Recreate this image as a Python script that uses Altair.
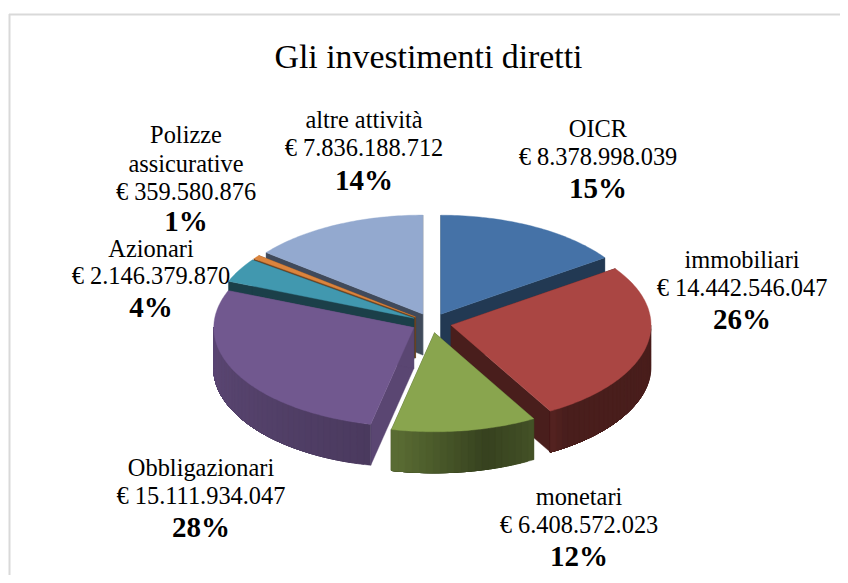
import math
import numpy as np
import pandas as pd
import altair as alt

# ---- data ----
categories = ["OICR", "immobiliari", "monetari", "Obbligazionari", "Azionari", "Polizze assicurative", "altre attività"]
values = [8378998039, 14442546047, 6408572023, 15111934047, 2146379870, 359580876, 7836188712]
value_labels = ["€ 8.378.998.039", "€ 14.442.546.047", "€ 6.408.572.023", "€ 15.111.934.047",
                "€ 2.146.379.870", "€ 359.580.876", "€ 7.836.188.712"]
percent_labels = ["15%", "26%", "12%", "28%", "4%", "1%", "14%"]
colors = ["#4572A7", "#AA4643", "#89A54E", "#71588F", "#4198AF", "#DB843D", "#93A9CF"]
title = "Gli investimenti diretti"

# ---- layout (page pixels, minus the 8px page margin) ----
W, H = 832, 567
OFF = 8
CX, CY, RX, RY, EXPLODE, DEPTH = 431.5 - OFF, 323 - OFF, 200, 99, 20, 41
paint_order = [6, 0, 5, 4, 1, 3, 2]
radial_shade = [0.5, 0.43, 0.45, 0.8, 0.42, 0.5, 0.44]
shade_t = [0, 145, 150, 165, 190, 200, 285, 360]
shade_f = [0.43, 0.43, 0.5, 0.4, 0.65, 0.68, 0.85, 0.85]
label_x = [598, 742, 579, 201, 151, 186, 364]
label_y = [[130, 158, 189], [261, 289, 320], [498, 526, 557], [469, 497, 528],
           [250, 277, 308], [136, 165, 193, 222], [121, 149, 181]]


def scale_color(hex_color, f):
    r, g, b = [int(hex_color[i:i + 2], 16) for i in (1, 3, 5)]
    return "#%02x%02x%02x" % (int(r * f), int(g * f), int(b * f))


def feature(points, fill):
    ring = [[float(x), float(y)] for x, y in points]
    ring.append(ring[0])
    return {"type": "Feature", "properties": {"fill": fill},
            "geometry": {"type": "Polygon", "coordinates": [ring]}}


total = sum(values)
ends = np.cumsum(values) / total * 360.0
starts = np.concatenate([[0.0], ends[:-1]])
features = []
for i in paint_order:
    t0, t1 = starts[i], ends[i]
    mid = math.radians((t0 + t1) / 2)
    ax = CX + EXPLODE * math.sin(mid)
    ay = CY - EXPLODE * RY / RX * math.cos(mid)

    def rim(t):
        r = math.radians(t)
        return ax + RX * math.sin(r), ay - RY * math.cos(r)

    # radial walls
    for t in (t0, t1):
        px, py = rim(t)
        features.append(feature([(ax, ay), (px, py), (px, py + DEPTH), (ax, ay + DEPTH)],
                                scale_color(colors[i], radial_shade[i])))
    # outer wall, only the part that faces the viewer; each band is painted
    # over the rest of the wall, so no seams show between bands
    lo, hi = max(t0, 90.0), min(t1, 270.0)
    if hi > lo:
        n = max(2, int((hi - lo) / 2))
        grid = np.linspace(lo, hi, n + 1)
        for a, b in zip(grid[:-1], grid[1:]):
            arc = [rim(t) for t in np.linspace(a, hi, max(2, int(hi - a) + 2))]
            f = float(np.interp((a + b) / 2, shade_t, shade_f))
            lower = [(x, y + DEPTH) for x, y in reversed(arc)]
            features.append(feature(arc + lower, scale_color(colors[i], f)))
    # top face
    grid = np.linspace(t0, t1, max(3, int(t1 - t0) + 1))
    features.append(feature([(ax, ay)] + [rim(t) for t in grid], colors[i]))

pie = (
    alt.Chart(alt.Data(values=features))
    .mark_geoshape(strokeWidth=0.4)
    .encode(fill=alt.Fill("properties.fill:N", scale=None, legend=None),
            stroke=alt.Stroke("properties.fill:N", scale=None, legend=None))
    .project(type="identity", scale=1, translate=[0, 0])
)

# ---- labels ----
rows = []
for i, name in enumerate(categories):
    lines = ["Polizze", "assicurative"] if i == 5 else [name]
    lines = lines + [value_labels[i], percent_labels[i]]
    for j, (txt, yy) in enumerate(zip(lines, label_y[i])):
        rows.append({"t": txt, "x": label_x[i] - OFF, "y": yy - OFF, "bold": j == len(lines) - 1})
labels = pd.DataFrame(rows)
xs = alt.Scale(domain=[0, W], range=[0, W])
ys = alt.Scale(domain=[0, H], range=[0, H])
FONT = "Liberation Serif"


def text_layer(df, size, weight="normal"):
    return alt.Chart(df).mark_text(font=FONT, fontSize=size, fontWeight=weight, color="#000000",
                                   align="center", baseline="middle").encode(
        x=alt.X("x:Q", scale=xs, axis=None),
        y=alt.Y("y:Q", scale=ys, axis=None),
        text="t:N")


normal = text_layer(labels[~labels.bold], 24.4)
bold = text_layer(labels[labels.bold], 29, "bold")
title_layer = text_layer(pd.DataFrame([{"t": title, "x": 428.5 - OFF, "y": 58 - OFF}]), 33.8)

frame_x = [{"x": 9 - OFF, "x2": W, "y": 14.5 - OFF, "y2": 14.5 - OFF},
           {"x": 9.5 - OFF, "x2": 9.5 - OFF, "y": 14 - OFF, "y2": H}]
frame = alt.Chart(pd.DataFrame(frame_x)).mark_rule(color="#d9d9d9", strokeWidth=2).encode(
    x=alt.X("x:Q", scale=xs, axis=None), x2="x2:Q",
    y=alt.Y("y:Q", scale=ys, axis=None), y2="y2:Q")

chart = (
    alt.layer(frame, pie, normal, bold, title_layer)
    .resolve_scale(x="shared", y="shared")
    .properties(width=W, height=H, padding=0, autosize=alt.AutoSizeParams(type="none"), background="white")
    .configure_view(stroke=None)
)
chart.save("out.html", embed_options={"renderer": "svg", "actions": False})
